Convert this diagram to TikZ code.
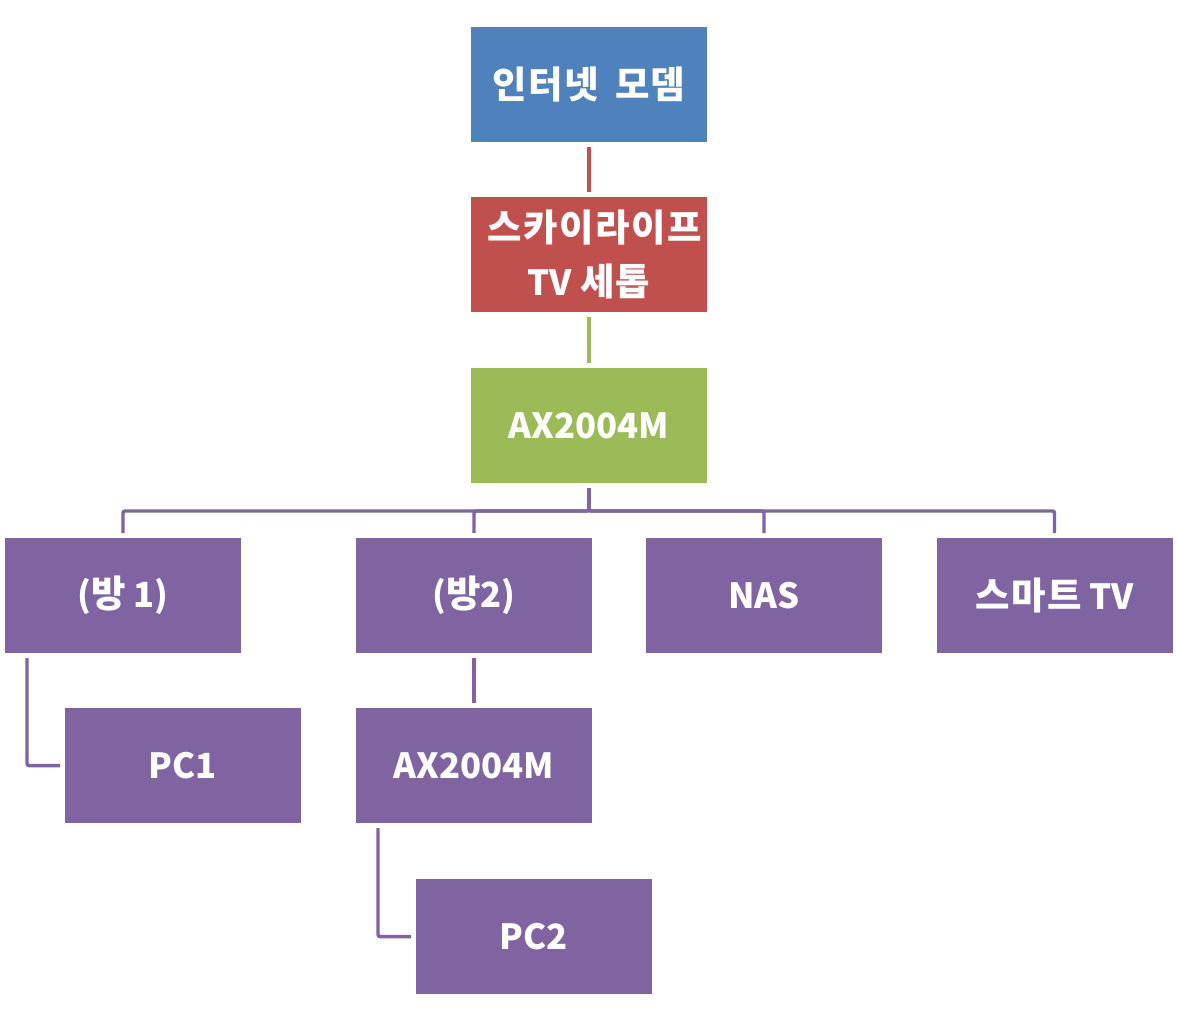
\documentclass[tikz,border=0pt]{standalone}
\usepackage{fontspec}
\setmainfont{Noto Sans CJK KR}
\newfontfamily\kr{Noto Sans CJK KR}[Scale=1.08, LetterSpace=4, WordSpace=1.6]
\definecolor{cblue}{HTML}{4F81BD}
\definecolor{cred}{HTML}{C0504D}
\definecolor{cgreen}{HTML}{9BBB59}
\definecolor{cpurple}{HTML}{8064A2}
\tikzset{
  box/.style={rectangle, minimum width=177pt, minimum height=86.25pt, inner sep=0pt, outer sep=0pt,
    text=white, font=\fontsize{26}{41}\selectfont\bfseries, align=center},
  link/.style={line width=2.6pt, shorten <=3.75pt, shorten >=3.75pt, rounded corners=1.5pt},
}
\begin{document}
\begin{tikzpicture}[x=0.75pt,y=-0.75pt]
\useasboundingbox[fill=white] (0,0) rectangle (1177,1022);
\node[box, fill=cblue] (modem) at (589,84.5) {\kr 인터넷 모뎀};
\node[box, fill=cred] (settop) at (589,254.5) {\hspace*{9pt}{\kr 스카이라이프}\\TV {\kr 세톱}};
\node[box, fill=cgreen] (ax1) at (589,425.5) {AX2004M};
\node[box, fill=cpurple] (room1) at (123,595.5) {({\kr 방} 1)};
\node[box, fill=cpurple] (room2) at (474,595.5) {({\kr 방}2)};
\node[box, fill=cpurple] (nas) at (764,595.5) {NAS};
\node[box, fill=cpurple] (tv) at (1054.5,595.5) {{\kr 스마트} TV};
\node[box, fill=cpurple] (pc1) at (183,765.5) {PC1};
\node[box, fill=cpurple] (ax2) at (474,765.5) {AX2004M};
\node[box, fill=cpurple] (pc2) at (534,936.5) {PC2};
\coordinate (bus) at (0,511);
\draw[link, cred] (modem) -- (settop);
\draw[link, cgreen] (settop) -- (ax1);
\foreach \c in {room1,room2,nas,tv}{
  \draw[link, cpurple] (ax1.south) -- (ax1.south |- bus) -| (\c.north);
}
\draw[link, cpurple] ([xshift=16.5pt]room1.south west) |- (pc1.west);
\draw[link, cpurple] (room2) -- (ax2);
\draw[link, cpurple] ([xshift=16.5pt]ax2.south west) |- (pc2.west);
\end{tikzpicture}
\end{document}
